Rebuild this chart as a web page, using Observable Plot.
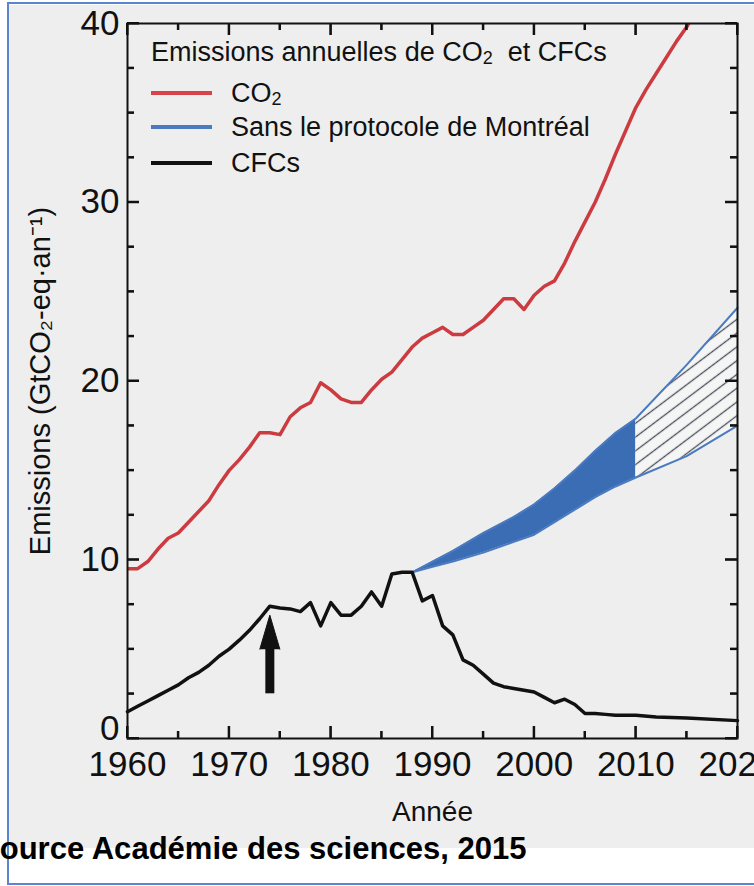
<!DOCTYPE html>
<html><head><meta charset="utf-8">
<script src="https://cdn.jsdelivr.net/npm/d3@7"></script>
<script src="https://cdn.jsdelivr.net/npm/@observablehq/plot@0.6"></script>
<style>
html,body{margin:0;padding:0;background:#fff;}
#page{position:relative;width:754px;height:886px;overflow:hidden;font-family:"Liberation Sans",Arial,sans-serif;color:#111;}
#scan{position:absolute;left:9px;top:5px;width:760px;height:843px;background:#eeeeee;}
#border{position:absolute;left:7px;top:2px;width:770px;height:883px;border:2px solid #5a86d0;box-sizing:border-box;pointer-events:none;}
#chart{position:absolute;left:0;top:0;}
.lg{position:absolute;font-size:27px;line-height:34px;white-space:nowrap;}
.lg sub{font-size:18px;vertical-align:-3px;line-height:0;}
.sw{position:absolute;left:151px;width:61px;height:4px;}
#source{position:absolute;left:-21px;top:830px;font-weight:bold;font-size:32px;line-height:36px;white-space:nowrap;color:#000;transform:scaleX(0.97);transform-origin:0 50%;}
</style></head>
<body>
<div id="page">
  <div id="scan"></div>
  <div id="border"></div>
  <div id="chart"></div>
  <div class="lg" style="left:151px;top:35px;">Emissions annuelles de CO<sub>2</sub>&nbsp; et CFCs</div>
  <div class="sw" style="top:91px;background:#d8434a;"></div>
  <div class="lg" style="left:231px;top:76px;">CO<sub>2</sub></div>
  <div class="sw" style="top:125px;background:#4a7ac0;"></div>
  <div class="lg" style="left:231px;top:110px;">Sans le protocole de Montréal</div>
  <div class="sw" style="top:161px;background:#111;"></div>
  <div class="lg" style="left:231px;top:146px;">CFCs</div>
  <div id="source">Source Académie des sciences, 2015</div>
</div>
<script>
// CO2 emissions (GtCO2-eq/yr)
const co2Years = [1960,1961,1962,1963,1964,1965,1966,1967,1968,1969,1970,1971,1972,1973,1974,1975,1976,1977,1978,1979,1980,1981,1982,1983,1984,1985,1986,1987,1988,1989,1990,1991,1992,1993,1994,1995,1996,1997,1998,1999,2000,2001,2002,2003,2004,2005,2006,2007,2008,2009,2010,2011,2012,2013,2014,2015,2016];
const co2Values = [9.5,9.5,9.9,10.6,11.2,11.5,12.1,12.7,13.3,14.2,15.0,15.6,16.3,17.1,17.1,17.0,18.0,18.5,18.8,19.9,19.5,19.0,18.8,18.8,19.5,20.1,20.5,21.2,21.9,22.4,22.7,23.0,22.6,22.6,23.0,23.4,24.0,24.6,24.6,24.0,24.8,25.3,25.6,26.6,27.8,28.9,30.0,31.3,32.7,34.0,35.3,36.3,37.2,38.1,39.0,39.8,40.8];

// CFC emissions (GtCO2-eq/yr)
const cfcYears = [1960,1961,1962,1963,1964,1965,1966,1967,1968,1969,1970,1971,1972,1973,1974,1975,1976,1977,1978,1979,1980,1981,1982,1983,1984,1985,1986,1987,1988,1989,1990,1991,1992,1993,1994,1995,1996,1997,1998,1999,2000,2001,2002,2003,2004,2005,2006,2007,2008,2010,2012,2015,2020];
const cfcValues = [1.5,1.8,2.1,2.4,2.7,3.0,3.4,3.7,4.1,4.6,5.0,5.5,6.05,6.7,7.4,7.3,7.25,7.1,7.6,6.3,7.6,6.9,6.9,7.4,8.2,7.4,9.2,9.3,9.3,7.7,8.0,6.3,5.8,4.4,4.1,3.6,3.1,2.9,2.8,2.7,2.6,2.3,2.0,2.2,1.9,1.4,1.4,1.35,1.3,1.3,1.2,1.15,1.0];

// Without the Montreal Protocol (range to 2010, then projected range)
const noMPYears = [1988,1990,1992,1995,1998,2000,2002,2004,2006,2008,2010];
const noMPLow   = [9.3,9.6,9.9,10.4,11.0,11.4,12.1,12.8,13.5,14.1,14.6];
const noMPHigh  = [9.3,9.9,10.5,11.5,12.4,13.1,14.0,15.0,16.1,17.1,17.9];
const projYears = [2010,2015,2020];
const projLow   = [14.6,15.8,17.5];
const projHigh  = [17.9,20.9,24.1];

// Arrow annotation (year, base, neck, tip)
const arrowYear = [1974];
const arrowBase = [2.5];
const arrowNeck = [5.3];
const arrowTip  = [6.9];

// Axes
const xDomain = [1960, 2020];
const yDomain = [0, 40];
const xMajor = [1960,1970,1980,1990,2000,2010,2020];
const xMinor = [1965,1975,1985,1995,2005,2015];
const yLabels = [10,20,30,40];
const yZero = [0];
const yMajor = [0,10,20,30,40];
const yMinor = [2.5,5,7.5,12.5,15,17.5,22.5,25,27.5,32.5,35,37.5];

const co2 = co2Years.map((year,i)=>({year, value: co2Values[i]}));
const cfc = cfcYears.map((year,i)=>({year, value: cfcValues[i]}));
const band = noMPYears.map((year,i)=>({year, low: noMPLow[i], high: noMPHigh[i]}));
const proj = projYears.map((year,i)=>({year, low: projLow[i], high: projHigh[i]}));
const bandAll = band.concat(proj.slice(1));
const arrow = arrowYear.map((year,i)=>({year, base: arrowBase[i], neck: arrowNeck[i], tip: arrowTip[i]}));

const W = 754, H = 848;
const mL = 127, mR = 17, mT = 23, mB = H - 738;
const pw = W - mL - mR, ph = H - mT - mB;
const major = 12, minor = 7;           // tick lengths in px
const kx = (xDomain[1] - xDomain[0]) / pw;
const ky = (yDomain[1] - yDomain[0]) / ph;
const tk = {stroke:"#111", strokeWidth:2};

const chart = Plot.plot({
  width: W, height: H,
  marginLeft: mL, marginRight: mR, marginTop: mT, marginBottom: mB,
  x: {domain: xDomain, label:null},
  y: {domain: yDomain, label:null},
  style: {background:"transparent", fontFamily:"Liberation Sans, Arial, sans-serif", fontSize:"34px", color:"#111"},
  marks: [
    Plot.areaY(band, {x:"year", y1:"low", y2:"high", fill:"#3b6db5"}),
    Plot.areaY(proj, {x:"year", y1:"low", y2:"high", fill:"url(#hatch)"}),
    Plot.line(bandAll, {x:"year", y:"high", stroke:"#4a7ac0", strokeWidth:2}),
    Plot.line(bandAll, {x:"year", y:"low", stroke:"#4a7ac0", strokeWidth:2}),
    Plot.line(cfc, {x:"year", y:"value", stroke:"#111", strokeWidth:3.5, strokeLinejoin:"round"}),
    Plot.line(co2, {x:"year", y:"value", stroke:"#cc3b40", strokeWidth:3.5, strokeLinejoin:"round", clip:true}),
    Plot.ruleX(arrow, {x:"year", y1:"base", y2:"neck", stroke:"#111", strokeWidth:9}),
    Plot.vector(arrow, {x:"year", y:"tip", length:34, r:10, rotate:0, shape:"spike", anchor:"end", fill:"#111", stroke:"#111", strokeWidth:1}),
    // inward ticks: left, right, bottom, top
    Plot.ruleY(yMajor, {...tk, x1: xDomain[0], x2: xDomain[0] + major * kx}),
    Plot.ruleY(yMinor, {...tk, x1: xDomain[0], x2: xDomain[0] + minor * kx}),
    Plot.ruleY(yMajor, {...tk, x1: xDomain[1] - major * kx, x2: xDomain[1]}),
    Plot.ruleY(yMinor, {...tk, x1: xDomain[1] - minor * kx, x2: xDomain[1]}),
    Plot.ruleX(xMajor, {...tk, y1: yDomain[0], y2: yDomain[0] + major * ky}),
    Plot.ruleX(xMinor, {...tk, y1: yDomain[0], y2: yDomain[0] + minor * ky}),
    Plot.ruleX(xMajor, {...tk, y1: yDomain[1] - major * ky, y2: yDomain[1]}),
    Plot.ruleX(xMinor, {...tk, y1: yDomain[1] - minor * ky, y2: yDomain[1]}),
    Plot.frame({stroke:"#111", strokeWidth:2}),
    // tick labels
    Plot.axisY(yLabels, {anchor:"left", tickSize:0, tickPadding:8, fontSize:35, label:null}),
    Plot.axisY(yZero, {anchor:"left", tickSize:0, tickPadding:8, fontSize:35, dy:-10, label:null}),
    Plot.axisX(xMajor, {anchor:"bottom", tickSize:0, tickPadding:13, tickFormat:"d", fontSize:35, label:null}),
    Plot.text(["Emissions (GtCO₂-eq·an⁻¹)"], {frameAnchor:"left", dx:-87, rotate:-90, textAnchor:"middle", lineAnchor:"middle", fontSize:29, fill:"#111"}),
    Plot.text(["Année"], {frameAnchor:"bottom", dy:74, textAnchor:"middle", lineAnchor:"middle", fontSize:28, fill:"#111"})
  ]
});
document.getElementById("chart").appendChild(chart);
const svg = chart.tagName.toLowerCase() === "svg" ? chart : chart.querySelector("svg");

// hatch pattern for the projected range
const defs = d3.select(svg).insert("defs", ":first-child");
const pat = defs.append("pattern").attr("id","hatch").attr("patternUnits","userSpaceOnUse")
  .attr("width",12).attr("height",11).attr("patternTransform","rotate(-37)");
pat.append("rect").attr("width",12).attr("height",11).attr("fill","#f5f5f5");
pat.append("line").attr("x1",0).attr("y1",5.5).attr("x2",12).attr("y2",5.5).attr("stroke","#4a4f5a").attr("stroke-width",1.3);

// extra inward ticks placed with Plot's own scales, on top of everything
const sx = chart.scale("x"), sy = chart.scale("y");
const g = d3.select(svg).append("g").attr("stroke","#111").attr("stroke-width",2).attr("fill","none");
const X0 = sx.apply(xDomain[0]), X1 = sx.apply(xDomain[1]);
const Y0 = sy.apply(yDomain[0]), Y1 = sy.apply(yDomain[1]);
yMajor.map(v => [v, major]).concat(yMinor.map(v => [v, minor])).forEach(([v, len]) => {
  const y = sy.apply(v);
  g.append("line").attr("x1", X0).attr("x2", X0 + len).attr("y1", y).attr("y2", y);
  g.append("line").attr("x1", X1 - len).attr("x2", X1).attr("y1", y).attr("y2", y);
});
xMajor.map(v => [v, major]).concat(xMinor.map(v => [v, minor])).forEach(([v, len]) => {
  const x = sx.apply(v);
  g.append("line").attr("x1", x).attr("x2", x).attr("y1", Y0).attr("y2", Y0 - len);
  g.append("line").attr("x1", x).attr("x2", x).attr("y1", Y1).attr("y2", Y1 + len);
});
</script>
</body></html>
